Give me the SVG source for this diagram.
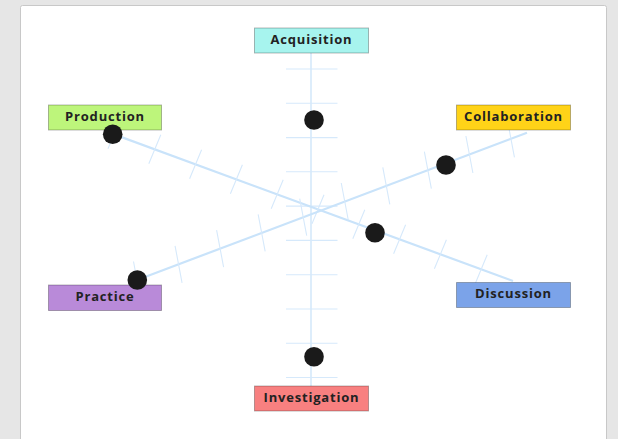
<svg xmlns="http://www.w3.org/2000/svg" width="618" height="439" viewBox="0 0 618 439">
  <style>
    .bg { fill: #e6e6e6; }
    .panel { fill: #ffffff; stroke: #c8c8c8; stroke-width: 1; }
    .axis-v { stroke: #ddedfb; stroke-width: 2; fill: none; }
    .axis-d { stroke: #c9e3fa; stroke-width: 2.2; fill: none; }
    .tick { stroke: #d6e9fb; stroke-width: 1.1; fill: none; }
    .box { stroke: rgba(0,0,0,0.28); stroke-width: 1; }
    .label { font-family: "Open Sans", "Noto Sans", "DejaVu Sans", sans-serif; font-weight: 700; font-size: 13px; letter-spacing: 0.8px; fill: #222222; text-anchor: middle; }
    .dot { fill: #1a1a1a; }
  </style>
  <rect class="bg" x="0" y="0" width="618" height="439"/>
  <rect class="panel" x="20.5" y="5.5" width="586" height="440" rx="2"/>

  <g id="connectors">
    <line class="axis-v" x1="311" y1="53" x2="311" y2="386"/>
    <path class="tick" d="M286 69H337.5M286 103.3H337.5M286 137.6H337.5M286 171.8H337.5M286 206.1H337.5M286 240.4H337.5M286 274.7H337.5M286 309H337.5M286 343.2H337.5M286 377.5H337.5"/>
    <line class="axis-d" x1="110" y1="132.9" x2="513" y2="281"/>
    <path class="tick" d="M120 119.8L108 148.8M160.8 134.8L148.8 163.8M201.6 149.8L189.6 178.8M242.4 164.8L230.4 193.8M283.2 179.8L271.2 208.8M324 194.8L312 223.8M364.8 209.8L352.8 238.8M405.6 224.8L393.6 253.8M446.4 239.8L434.4 268.8M487.2 254.8L475.2 283.8"/>
    <line class="axis-d" x1="137" y1="280" x2="527" y2="132.7"/>
    <path class="tick" d="M133.5 261.5L140.5 298.5M175.05 245.8L182.05 282.8M216.6 230.1L223.6 267.1M258.15 214.4L265.15 251.4M299.7 198.7L306.7 235.7M341.25 183L348.25 220M382.8 167.3L389.8 204.3M424.35 151.6L431.35 188.6M465.9 136L472.9 173M507.45 120.3L514.45 157.3"/>
  </g>

  <g id="acquisition">
    <rect class="box" x="254.5" y="28" width="114" height="25" fill="#a7f4ee"/>
    <text class="label" x="311.5" y="43.5">Acquisition</text>
  </g>
  <g id="production">
    <rect class="box" x="48.5" y="105" width="113" height="25" fill="#bdf57b"/>
    <text class="label" x="105" y="120.5">Production</text>
  </g>
  <g id="collaboration">
    <rect class="box" x="456.5" y="105" width="114" height="25" fill="#ffd318"/>
    <text class="label" x="513.5" y="120.5">Collaboration</text>
  </g>
  <g id="practice">
    <rect class="box" x="48.5" y="285" width="113" height="25.5" fill="#b98ad9"/>
    <text class="label" x="105" y="300.5">Practice</text>
  </g>
  <g id="discussion">
    <rect class="box" x="456.5" y="282.5" width="114" height="25" fill="#7ba3e9"/>
    <text class="label" x="513.5" y="297.8">Discussion</text>
  </g>
  <g id="investigation">
    <rect class="box" x="254.5" y="386" width="114" height="25" fill="#f88080"/>
    <text class="label" x="311.5" y="401.5">Investigation</text>
  </g>

  <g id="values">
    <circle class="dot" cx="314" cy="120" r="9.8"/>
    <circle class="dot" cx="314" cy="356.7" r="9.8"/>
    <circle class="dot" cx="112.7" cy="134.3" r="9.8"/>
    <circle class="dot" cx="446" cy="165" r="9.8"/>
    <circle class="dot" cx="375" cy="232.7" r="9.8"/>
    <circle class="dot" cx="137.3" cy="280" r="9.8"/>
  </g>
</svg>
